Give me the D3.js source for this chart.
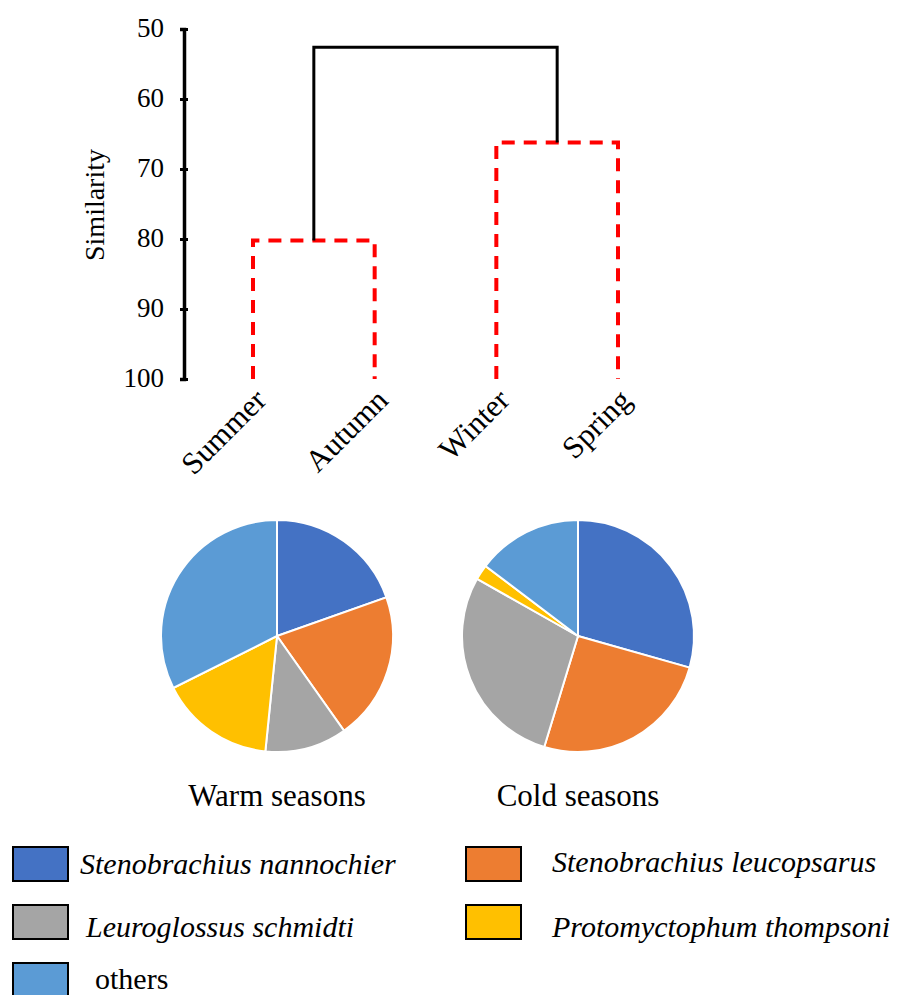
<!DOCTYPE html>
<html>
<head>
<meta charset="utf-8">
<script src="https://cdn.jsdelivr.net/npm/d3@7"></script>
<style>
  body { margin: 0; background: #fff; }
  svg text { font-family: "Liberation Serif", "Times New Roman", serif; }
</style>
</head>
<body>
<script>
// dendrogram data
var seasons = ["Summer", "Autumn", "Winter", "Spring"];
var simTicks = [50, 60, 70, 80, 90, 100];
var warmJoin = 80.2;   // Summer + Autumn
var coldJoin = 66.2;   // Winter + Spring
var topJoin = 52.6;    // the two groups

// pie data (percent)
var species = ["Stenobrachius nannochier", "Stenobrachius leucopsarus", "Leuroglossus schmidti", "Protomyctophum thompsoni", "others"];
var colors = ["#4472C4", "#ED7D31", "#A5A5A5", "#FFC000", "#5B9BD5"];
var warmValues = [19.6, 20.6, 11.4, 16.0, 32.4];
var coldValues = [29.4, 25.3, 28.5, 2.1, 14.7];
var pieTitles = ["Warm seasons", "Cold seasons"];

var width = 901, height = 995;
var svg = d3.select("body").append("svg")
  .attr("width", width)
  .attr("height", height);

var y = d3.scaleLinear().domain([50, 100]).range([29, 379]);
var x = d3.scalePoint().domain(seasons).range([253, 618]);

// y axis
var axis = svg.append("g")
  .attr("transform", "translate(184,0)")
  .call(d3.axisLeft(y).tickValues(simTicks).tickSizeOuter(0).tickSize(4).tickPadding(16));
axis.select(".domain").attr("stroke", "#000").attr("stroke-width", 3.5);
axis.selectAll(".tick line").attr("x1", -4).attr("x2", 4).attr("stroke-width", 3);
axis.selectAll(".tick text")
  .attr("dy", "0.28em")
  .style("font-size", "27px")
  .attr("fill", "#000");

svg.append("text")
  .attr("transform", "translate(104,205) rotate(-90)")
  .attr("text-anchor", "middle")
  .style("font-size", "28px")
  .text("Similarity");

// dendrogram
var redDash = function(sel) {
  return sel.attr("fill", "none").attr("stroke", "#ff0000")
    .attr("stroke-width", 4).attr("stroke-dasharray", "13,9");
};

var pairs = [
  {a: "Summer", b: "Autumn", h: warmJoin},
  {a: "Winter", b: "Spring", h: coldJoin}
];
pairs.forEach(function(p) {
  var path = d3.path();
  path.moveTo(x(p.a), y(100));
  path.lineTo(x(p.a), y(p.h));
  path.lineTo(x(p.b), y(p.h));
  path.lineTo(x(p.b), y(100));
  svg.append("path").attr("d", path.toString()).call(redDash);
});

var mid1 = (x("Summer") + x("Autumn")) / 2;
var mid2 = (x("Winter") + x("Spring")) / 2;
var topLink = d3.path();
topLink.moveTo(mid1, y(warmJoin));
topLink.lineTo(mid1, y(topJoin));
topLink.lineTo(mid2, y(topJoin));
topLink.lineTo(mid2, y(coldJoin));
svg.append("path").attr("d", topLink.toString())
  .attr("fill", "none").attr("stroke", "#000").attr("stroke-width", 3);

svg.selectAll(".leaf")
  .data(seasons)
  .enter()
  .append("text")
  .attr("class", "leaf")
  .attr("transform", function(d) { return "translate(" + (x(d) + 15) + "," + 402 + ") rotate(-45)"; })
  .attr("text-anchor", "end")
  .style("font-size", "31px")
  .text(function(d) { return d; });

// pies
var pie = d3.pie().sort(null).value(function(d) { return d; });
var arc = d3.arc().innerRadius(0).outerRadius(116);
var pieCenters = [277, 578];

[warmValues, coldValues].forEach(function(vals, i) {
  var g = svg.append("g").attr("transform", "translate(" + pieCenters[i] + ",636)");
  g.selectAll("path")
    .data(pie(vals))
    .enter()
    .append("path")
    .attr("d", arc)
    .attr("fill", function(d, j) { return colors[j]; })
    .attr("stroke", "#fff")
    .attr("stroke-width", 2);
  svg.append("text")
    .attr("x", pieCenters[i])
    .attr("y", 806)
    .attr("text-anchor", "middle")
    .style("font-size", "31px")
    .text(pieTitles[i]);
});

// legend
var legendPos = [
  {bx: 13, by: 847, tx: 80, ty: 874},
  {bx: 466, by: 847, tx: 552, ty: 872},
  {bx: 13, by: 905, tx: 86, ty: 937},
  {bx: 466, by: 905, tx: 552, ty: 937},
  {bx: 13, by: 963, tx: 95, ty: 989}
];
var legend = svg.selectAll(".legend")
  .data(species)
  .enter()
  .append("g")
  .attr("class", "legend");
legend.append("rect")
  .attr("x", function(d, i) { return legendPos[i].bx; })
  .attr("y", function(d, i) { return legendPos[i].by; })
  .attr("width", 55)
  .attr("height", 34)
  .attr("fill", function(d, i) { return colors[i]; })
  .attr("stroke", "#000")
  .attr("stroke-width", 2);
legend.append("text")
  .attr("x", function(d, i) { return legendPos[i].tx; })
  .attr("y", function(d, i) { return legendPos[i].ty; })
  .style("font-size", "30px")
  .style("font-style", function(d) { return d == "others" ? "normal" : "italic"; })
  .text(function(d) { return d; });
</script>
</body>
</html>
